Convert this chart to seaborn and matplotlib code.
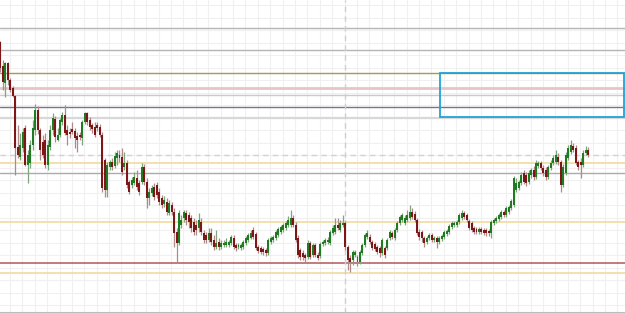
import matplotlib
matplotlib.use("Agg")
import numpy as np
import pandas as pd
import seaborn as sns
import matplotlib.pyplot as plt
from matplotlib.ticker import MultipleLocator
from matplotlib.patches import Rectangle

# ---- data (price units) ----
open_ = [271,247,230,250,233,225,217,166,156,165,185,148,150,168,183,203,183,171,173,148,
         166,183,194,173,178,191,198,183,181,184,182,177,178,175,191,200,193,188,186,188,
         186,178,153,123,146,151,147,155,158,156,146,150,131,128,130,135,130,131,146,131,
         115,120,126,128,121,115,109,111,100,108,101,81,70,88,95,100,98,95,91,88,
         85,91,80,78,73,80,73,66,71,66,68,68,68,70,75,68,66,65,66,70,
         73,75,83,79,66,65,64,63,60,71,73,75,78,81,83,85,88,88,95,88,
         75,63,60,58,56,70,58,68,58,57,69,70,71,70,80,81,88,83,88,90,
         66,55,53,58,51,51,60,68,76,76,71,69,66,65,60,65,65,75,80,75,
         83,90,93,90,93,95,101,99,93,81,81,75,71,75,78,73,75,71,74,76,
         79,81,86,88,88,91,95,100,98,92,90,85,84,81,84,83,83,82,80,90,
         92,94,96,101,98,101,105,108,123,125,130,140,138,131,138,143,136,147,150,145,
         143,136,145,150,151,156,151,128,140,155,161,167,165,151,151,148,160,163]
high = [272,253,251,251,235,227,218,188,180,185,188,163,173,193,209,207,185,178,180,173,
        188,200,197,185,195,201,208,188,185,191,185,181,181,193,201,201,196,190,191,191,
        189,181,155,151,153,155,161,163,163,165,161,153,133,136,141,143,133,150,149,135,
        125,128,130,131,125,118,117,115,113,111,105,85,103,98,103,103,101,98,95,93,
        100,95,83,81,85,85,78,83,75,73,73,75,73,78,78,70,70,70,73,77,
        80,83,86,81,68,67,66,65,75,77,78,83,86,88,90,92,97,103,98,91,
        78,65,63,60,73,72,70,70,61,71,73,75,76,83,88,95,95,93,98,92,
        68,58,63,63,58,63,70,80,83,79,73,71,68,67,75,67,75,83,82,85,
        92,98,100,98,103,108,105,102,95,84,83,77,77,80,80,77,77,77,79,83,
        84,89,92,92,93,100,103,102,100,94,92,87,86,86,86,85,85,84,93,95,
        97,100,103,103,107,108,114,137,135,133,141,143,141,143,145,147,153,152,152,148,
        146,148,153,158,163,160,153,149,161,168,173,170,168,153,155,163,167,166]
low = [241,223,216,228,221,216,138,155,153,161,147,130,145,163,178,179,153,155,145,143,
       163,178,171,172,176,188,178,168,175,179,165,161,173,168,189,188,183,180,176,182,
       176,121,116,116,143,143,145,148,151,138,143,125,119,125,128,123,118,129,128,105,
       108,117,113,115,108,105,106,98,98,98,66,50,68,85,91,88,85,81,78,78,
       81,78,70,70,71,68,63,64,63,64,66,66,66,68,64,62,64,63,64,68,
       71,74,74,63,60,59,58,57,58,69,71,73,76,79,81,83,86,86,86,71,
       55,53,53,50,54,54,56,56,53,55,67,68,69,68,78,79,83,81,86,63,
       43,41,48,56,47,49,58,66,74,69,63,62,59,56,58,55,63,73,74,73,
       81,88,91,88,91,93,94,91,78,73,71,66,69,73,71,71,65,69,72,74,
       77,79,84,86,86,89,93,94,91,83,81,79,79,79,79,78,77,77,75,88,
       90,92,94,96,96,99,103,106,121,123,128,129,127,129,135,133,134,145,143,137,
       133,134,143,148,149,148,121,126,138,153,159,161,148,143,135,146,158,156]
close = [245,231,250,233,223,217,165,158,168,181,148,158,168,185,203,183,163,158,148,168,
         183,195,176,178,193,198,180,178,179,181,175,173,176,191,200,191,186,184,178,185,
         178,125,123,148,151,146,157,160,155,141,150,128,121,133,136,126,121,146,131,115,
         121,125,116,118,111,108,113,101,110,101,80,70,100,93,101,93,91,85,81,83,
         93,81,73,73,80,71,66,70,66,70,70,71,71,76,66,65,68,68,71,75,
         78,80,76,65,62,61,61,60,73,75,76,81,84,86,88,90,93,95,88,73,
         58,56,56,55,70,56,68,58,55,69,71,73,73,81,85,88,85,90,90,66,
         53,51,61,61,56,61,68,78,80,71,65,64,61,60,73,58,73,81,76,83,
         90,96,98,95,98,101,96,93,80,76,75,70,75,78,73,75,71,75,77,81,
         82,87,90,90,91,98,100,96,93,85,83,81,81,84,81,80,80,80,91,93,
         95,98,101,98,105,106,112,135,130,131,138,131,130,140,143,136,150,150,145,140,
         136,146,150,155,158,151,128,146,158,165,168,163,150,146,148,160,163,158]

levels = [285, 263, 240, 225, 218, 206, 195, 158, 150, 140, 91, 50, 40]
level_colors = ["#b5b5b5", "#b5b5b5", "#a39d4c", "#e4c6c6", "#cacaca", "#6f7893", "#d8d8d8",
                "#d2d2d2", "#f0dc9c", "#ababab", "#f0dc9c", "#b05858", "#f0dc9c"]
level_widths = [1.0, 1.0, 1.0, 2.0, 1.0, 1.0, 1.6, 1.0, 1.2, 1.0, 1.2, 1.1, 1.2]
level_styles = ["-", "-", "-", "-", "-", "-", "-", "--", "-", "-", "-", "-", "-"]

zone_x = [177.3, 251.5]
zone_y = [196, 240]
marker_x = 139

df = pd.DataFrame({"open": open_, "high": high, "low": low, "close": close})
df["idx"] = np.arange(len(df))
df["up"] = df["close"] >= df["open"]

sns.set_theme(style="white")
fig = plt.figure(figsize=(6.25, 3.13), dpi=100)
ax = fig.add_axes([0, 0, 1, 1])

ax.set_xlim(-0.2, 251.9)
ax.set_ylim(0, 313)

ax.xaxis.set_major_locator(MultipleLocator(5, offset=3.8))
ax.yaxis.set_major_locator(MultipleLocator(12.5, offset=8))
ax.grid(True, color="#f0f0f0", linewidth=0.8, zorder=0)
ax.set_axisbelow(True)
ax.tick_params(left=False, bottom=False, labelleft=False, labelbottom=False)
for s in ["top", "left", "right"]:
    ax.spines[s].set_visible(False)
ax.spines["bottom"].set_color("#bdbdbd")
ax.spines["bottom"].set_linewidth(1.5)

for lv, c, w, ls in zip(levels, level_colors, level_widths, level_styles):
    if ls == "--":
        ax.axhline(lv, color=c, lw=w, ls=(0, (4, 3)), zorder=1)
    else:
        ax.axhline(lv, color=c, lw=w, zorder=1)

ax.axvline(marker_x, color="#cfcfcf", lw=1.0, ls=(0, (4, 3)), zorder=1)

ax.add_patch(Rectangle((zone_x[0], zone_y[0]), zone_x[1] - zone_x[0], zone_y[1] - zone_y[0],
                       fill=False, edgecolor="#1ea3d8", lw=1.3, zorder=2))

green = "#217a21"
red = "#7d1616"
body_col = np.where(df["up"], green, red)
wick_col = np.where(df["up"], "#7fa57f", "#b08a8a")

ax.vlines(df["idx"], df["low"], df["high"], colors=wick_col, lw=0.9, zorder=3)
bottom = np.minimum(df["open"], df["close"])
height = np.maximum(np.abs(df["close"] - df["open"]), 1.0)
ax.bar(df["idx"], height, bottom=bottom, width=0.8, color=body_col, linewidth=0, zorder=4)

fig.savefig("out.png", dpi=100)
